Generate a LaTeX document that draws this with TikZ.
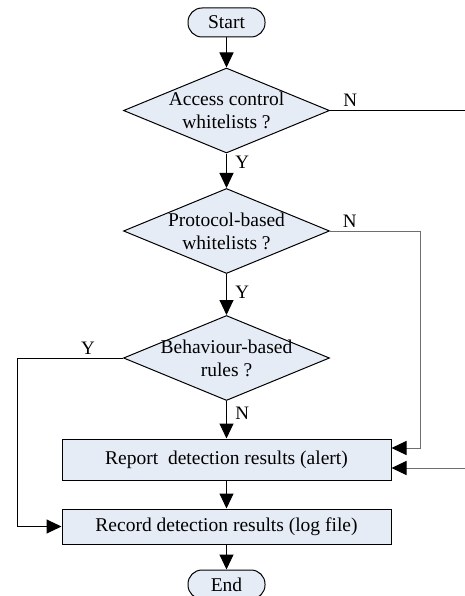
\documentclass[tikz,border=0pt]{standalone}
\usepackage{fontspec}
\setmainfont{Liberation Serif}
\usetikzlibrary{shapes.geometric,arrows.meta}
\definecolor{boxfill}{HTML}{E6ECF6}
\definecolor{wiregray}{HTML}{6E6E6E}

\begin{document}
\begin{tikzpicture}[x=1pt,y=1pt,line width=1pt,
    font=\fontsize{19.5}{23}\selectfont,
    terminal/.style={draw, fill=boxfill, rounded corners=14pt, minimum width=77pt, minimum height=29pt, inner sep=0pt},
    decision/.style={draw, fill=boxfill, diamond, minimum width=206pt, minimum height=85pt, inner sep=0pt,
      label={[align=center]center:#1}},
    process/.style={draw, fill=boxfill, minimum width=329pt, inner sep=0pt},
    flow/.style={-{Triangle[length=15pt,width=14pt,color=black]}},
    wire/.style={draw=wiregray},
    lbl/.style={font=\fontsize{19}{21}\selectfont}]
        \useasboundingbox (0,0) rectangle (465,-596);

        \node[terminal] (start) at (226.5,-22.5) {Start};

        \node[decision={Access control\\whitelists ?}] (d1) at (226.5,-110.5) {};
        \node[decision={Protocol-based\\whitelists ?}] (d2) at (226.5,-231) {};
        \node[decision={Behaviour-based\\rules ?}] (d3) at (226.5,-358) {};

        \node[process, minimum height=41pt] (report) at (226.5,-459.5) {Report~ detection results (alert)};
        \node[process, minimum height=35pt] (record) at (226.5,-526.5) {Record detection results (log file)};

        \node[terminal] (end) at (226.5,-584.5) {End};

        \coordinate (outN) at (465,-110.5);
        \coordinate (inR) at (465,-468);

        \draw[flow] (start) -- (d1);
        \draw[flow] (d1) -- (d2) node[lbl, pos=0.26, right=5pt] {Y};
        \draw[flow] (d2) -- (d3) node[lbl, pos=0.45, right=5pt] {Y};
        \draw[flow] (d3) -- (report) node[lbl, pos=0.33, right=5pt] {N};
        \draw[flow] (report) -- (record);
        \draw[flow] (record) -- (end);

        \draw (d1.east) -- (outN) node[lbl, pos=0.15, above] {N};
        \draw[flow, wire] (d2.east) -- ++(90,0) node[lbl, pos=0.22, above, black] {N}
          |- ([yshift=11.5pt]report.east);
        \draw[flow, wire] (inR) -- (report.east |- inR);
        \draw[flow] (d3.west) -- ++(-106,0) node[lbl, pos=0.33, above] {Y}
          |- (record.west);
      \end{tikzpicture}
\end{document}
